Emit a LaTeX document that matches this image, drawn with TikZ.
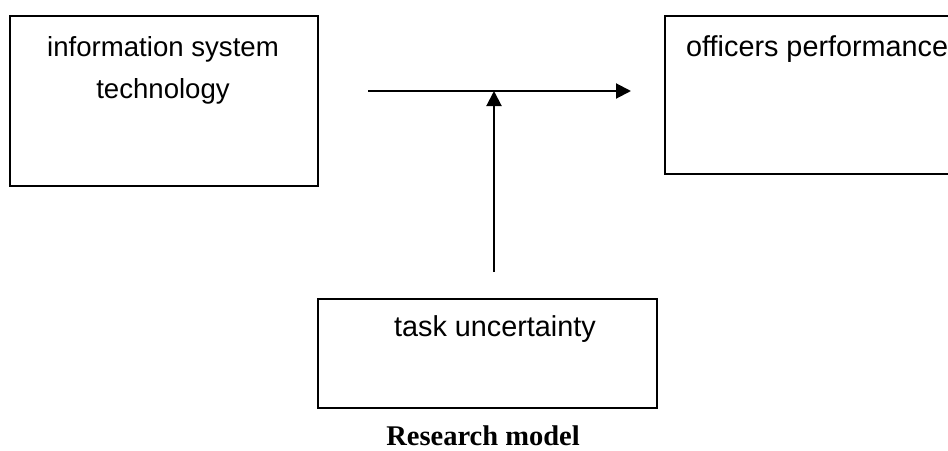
\documentclass[tikz,border=0pt]{standalone}
\usepackage{fontspec}
\setmainfont{Liberation Sans}
\newfontfamily\capfont{Liberation Serif}
\usetikzlibrary{arrows.meta}
\tikzset{
  box/.style={draw=black, line width=1.2pt, fill=none, inner sep=0pt},
  lbl/.style={inner sep=0pt, font=\fontsize{27.6}{42}\selectfont},
  lblb/.style={inner sep=0pt, font=\fontsize{28.8}{42}\selectfont},
  conn/.style={line width=2pt, -{Triangle[length=15pt,width=15pt]}},
}
\begin{document}
\begin{tikzpicture}[x=1pt,y=-1pt]
\useasboundingbox (0,0) rectangle (948,450);
\clip (0,0) rectangle (948,450);
% boxes
\node[box, minimum width=308pt, minimum height=170pt] (ist) at (164,101) {};
\node[box, minimum width=300pt, minimum height=158pt] (op) at (815,95) {};
\node[box, minimum width=339pt, minimum height=109pt] (tu) at (487.5,353.5) {};
% labels
\node[lbl, anchor=base] (istA) at (163,56) {information system};
\node[lbl, anchor=base] (istB) at (163,98) {technology};
\node[lblb, anchor=base west] (opA) at (686,56) {officers performance};
\node[lblb, anchor=base] (tuA) at (495,336) {task uncertainty};
\node[inner sep=0pt, anchor=base, font=\capfont\bfseries\fontsize{28.5}{34}\selectfont] (cap) at (483,445) {Research model};
% connectors
\coordinate (hs) at (368,91);
\coordinate (he) at (631,91);
\coordinate (vs) at (494,272);
\coordinate (ve) at (494,91);
\draw[conn] (hs) -- (he);
\draw[conn] (vs) -- (ve);
\end{tikzpicture}
\end{document}
